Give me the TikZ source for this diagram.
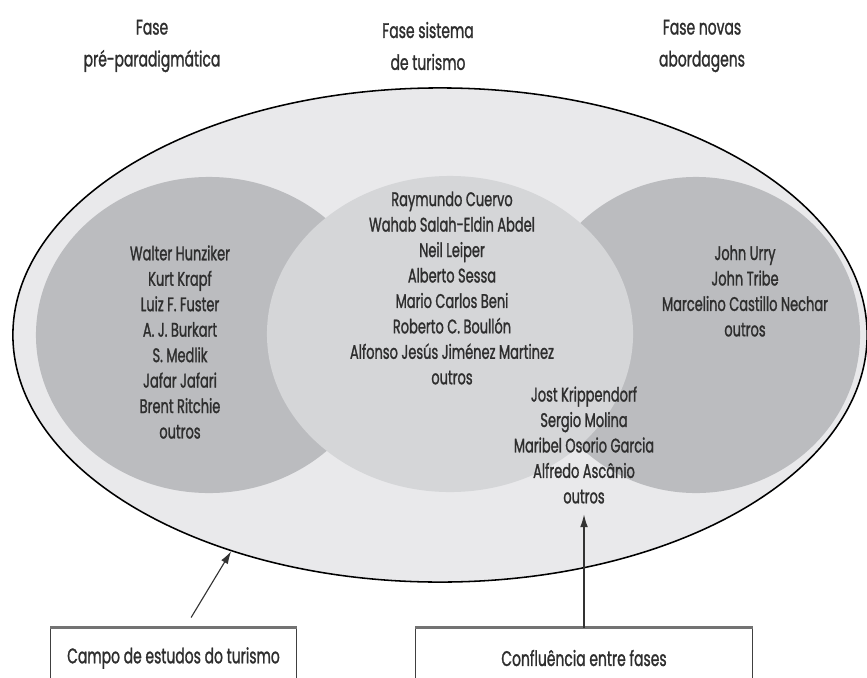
\documentclass[tikz,border=0pt]{standalone}
\usepackage{fontspec}
\setmainfont{Poppins}[FakeStretch=0.66,FakeBold=1.2]
\usetikzlibrary{shapes.geometric,arrows.meta}
\definecolor{fieldgray}{HTML}{E9E9EB}
\definecolor{phasegray}{HTML}{BBBCBF}
\definecolor{coregray}{HTML}{D5D6D8}
\definecolor{inkgray}{HTML}{2E2E2E}

\tikzset{
  phase/.style={ellipse,inner sep=0pt,fill=phasegray,minimum height=7.9cm},
  title/.style={text=inkgray,align=center,font=\fontsize{15}{22.7}\selectfont},
  names/.style={text=inkgray,align=center,font=\fontsize{14}{18.1}\selectfont},
  labelbox/.style={draw=black!75,line width=0.7pt,text=inkgray,
                   font=\fontsize{15}{18}\selectfont,minimum height=1.5cm},
  boxtop/.style={line width=1.6pt,black!55},
  pointer/.style={-{Latex[length=9pt,width=5.5pt]},line width=0.8pt,black!80}
}

\begin{document}
\begin{tikzpicture}[x=0.025cm,y=-0.025cm]
    \useasboundingbox (0,0) rectangle (867,677);

    % phase titles
    \node [title] (pretitle) at (152,46) {Fase\\pré-paradigmática};
    \node [title] (sistitle) at (428,46) {Fase sistema\\de turismo};
    \node [title] (novtitle) at (702,46) {Fase novas\\abordagens};

    % field and phases
    \node [ellipse,draw,line width=1.1pt,fill=fieldgray,inner sep=0pt,
           minimum width=21.35cm,minimum height=12.35cm] (field) at (440,335) {};
    \node [phase,minimum width=8.65cm] (pre)   at (209,335) {};
    \node [phase,minimum width=8.2cm]  (novas) at (696,335) {};
    \node [phase,fill=coregray,minimum width=9.15cm] (sistema) at (450,334) {};

    % authors
    \node [names] (prelist) at (180,342) {Walter Hunziker\\Kurt Krapf\\Luiz F. Fuster\\A. J. Burkart\\S. Medlik\\Jafar Jafari\\Brent Ritchie\\outros};
    \node [names] (sislist) at (452,288) {Raymundo Cuervo\\Wahab Salah-Eldin Abdel\\Neil Leiper\\Alberto Sessa\\Mario Carlos Beni\\Roberto C. Boullón\\Alfonso Jesús Jiménez Martinez\\outros};
    \node [names] (novlist) at (745,291) {John Urry\\John Tribe\\Marcelino Castillo Nechar\\outros};
    \node [names] (conflist) at (584,445) {Jost Krippendorf\\Sergio Molina\\Maribel Osorio Garcia\\Alfredo Ascânio\\outros};

    % captions
    \node [labelbox,minimum width=6.125cm] (campo) at (173.5,658) {Campo de estudos do turismo};
    \node [labelbox,minimum width=8.4cm]   (confl) at (584,658) {Confluência entre fases};
    \draw [boxtop] (campo.north west) -- (campo.north east)
                   (confl.north west) -- (confl.north east);

    \draw [pointer] ([xshift=0.44cm,yshift=0.25cm]campo.north) -- (field.226);
    \draw [pointer] (confl.north) -- ([yshift=-0.15cm]conflist.south);
\end{tikzpicture}
\end{document}
